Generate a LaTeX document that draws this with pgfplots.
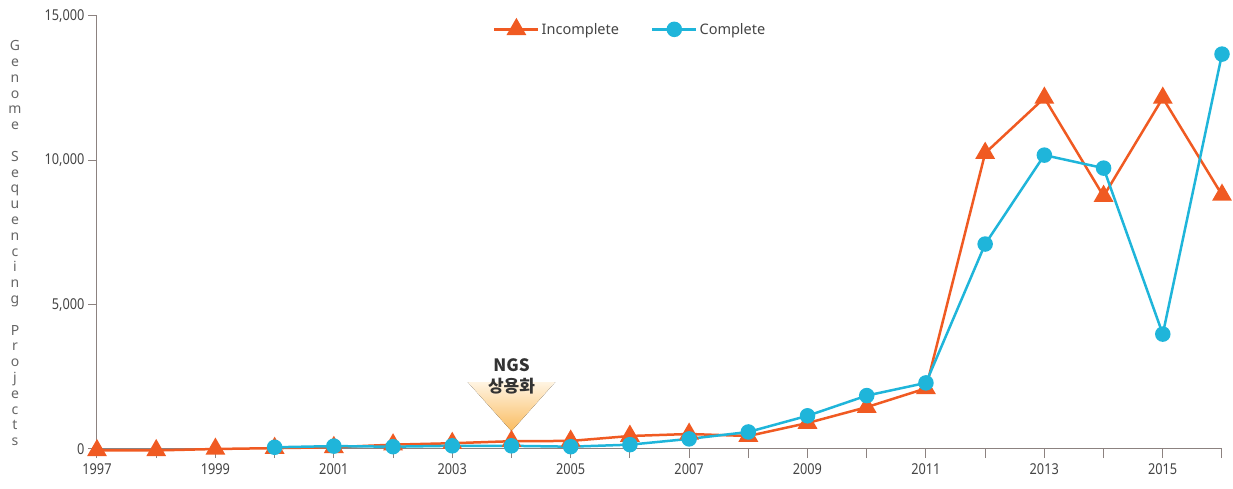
\documentclass[border=0pt]{standalone}
\usepackage{fontspec}
\usepackage{pgfplots}
\pgfplotsset{compat=1.18}
\setmainfont{Noto Sans}
\newfontfamily\tickfont[FakeStretch=0.85]{Noto Sans}
\newfontfamily\cjk{Noto Sans CJK KR}
\definecolor{incol}{HTML}{F05A22}
\definecolor{cocol}{HTML}{1FB5DA}
\definecolor{axgray}{HTML}{8C8280}
\definecolor{txgray}{HTML}{444444}
\begin{document}
\begin{tikzpicture}
\useasboundingbox (-97pt,-40pt) rectangle (1136pt,449pt);
\begin{axis}[
  at={(0,0)}, anchor=south west,
  scale only axis, width=1125pt, height=433pt,
  xmin=1997, xmax=2016, ymin=0, ymax=15000,
  clip=false,
  axis lines=left,
  axis line style={-, axgray, line width=1pt},
  tick align=outside, major tick length=9pt,
  tick style={axgray, line width=1pt},
  xtick={1997,...,2016},
  xticklabels={1997,,1999,,2001,,2003,,2005,,2007,,2009,,2011,,2013,,2015,},
  ytick={0,5000,10000,15000},
  scaled y ticks=false,
  /pgf/number format/1000 sep={,},
  /pgf/number format/assume math mode=true,
  ticklabel style={font=\tickfont\fontsize{15}{18}\selectfont, text=txgray},
  xticklabel style={yshift=-2pt},
  legend style={draw=none, fill=none, at={(0.474,0.97)}, anchor=center,
    font=\fontsize{14.5}{16}\selectfont, text=txgray,
    legend columns=2, /tikz/every even column/.append style={column sep=30pt}},
  legend image code/.code={\draw[mark repeat=2,mark phase=2] plot coordinates {(0pt,0pt)(22pt,0pt)(44pt,0pt)};},
]
\fill[top color={rgb,255:red,255;green,244;blue,226}, bottom color={rgb,255:red,250;green,188;blue,96}]
  (axis cs:2003.26,2320) -- (axis cs:2004.74,2320) -- (axis cs:2004,620) -- cycle;
\node[align=center, font=\cjk\bfseries\fontsize{17}{21}\selectfont, text=black!80] at (axis cs:2004,2500) {NGS\\상용화};
\addplot[incol, line width=2.5pt, mark=triangle*, mark size=9pt, mark options={solid}] coordinates {
(1997,-50) (1998,-50) (1999,0) (2000,30) (2001,60) (2002,150) (2003,200) (2004,270) (2005,280) (2006,450)
(2007,520) (2008,450) (2009,900) (2010,1450) (2011,2100) (2012,10250) (2013,12160) (2014,8760) (2015,12160) (2016,8800)
};
\addlegendentry{Incomplete}
\addplot[cocol, line width=2.5pt, mark=*, mark size=6.5pt, mark options={solid}] coordinates {
(2000,60) (2001,100) (2002,80) (2003,110) (2004,110) (2005,80) (2006,150) (2007,350) (2008,590) (2009,1150)
(2010,1850) (2011,2290) (2012,7100) (2013,10180) (2014,9730) (2015,3980) (2016,13680)
};
\addlegendentry{Complete}
\end{axis}
\node[anchor=north, align=center, text=black!60, font=\fontsize{14}{15.8}\selectfont] at (-82pt,412pt)
 {G\\e\\n\\o\\m\\e\\\mbox{}\\S\\e\\q\\u\\e\\n\\c\\i\\n\\g\\\mbox{}\\P\\r\\o\\j\\e\\c\\t\\s};
\end{tikzpicture}
\end{document}
